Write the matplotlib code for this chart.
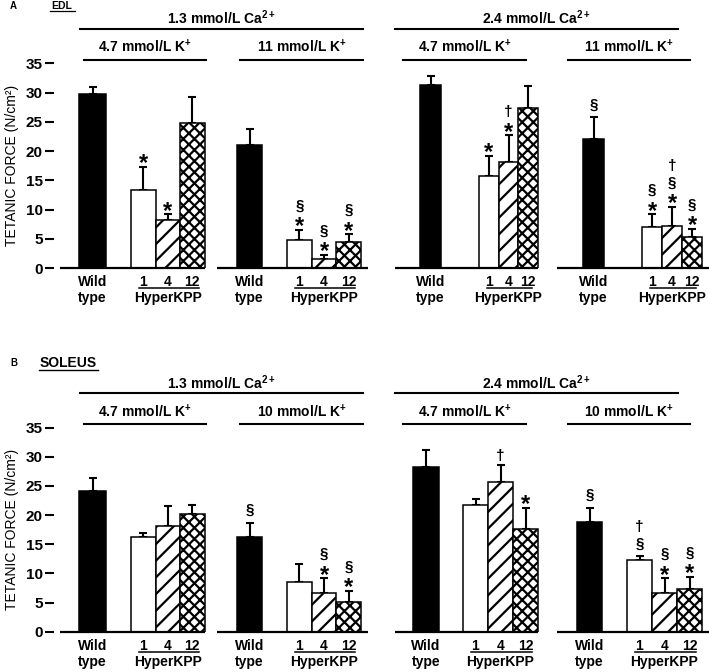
import matplotlib as mpl
import matplotlib.pyplot as plt

# Tetanic force (N/cm2), mean and SEM.
# Each group: wild type, HyperKPP lines 1, 4, 12.
# Groups: [1.3 Ca / 4.7 K, 1.3 Ca / high K, 2.4 Ca / 4.7 K, 2.4 Ca / high K]
edl_mean = [[29.8, 13.3, 8.2, 24.8],
            [21.0, 4.8, 1.6, 4.4],
            [31.3, 15.8, 18.2, 27.3],
            [22.0, 7.0, 7.2, 5.3]]
edl_sem = [[1.1, 4.0, 1.0, 4.4],
           [2.8, 1.7, 0.7, 1.4],
           [1.5, 3.4, 4.5, 3.8],
           [3.8, 2.2, 3.3, 1.4]]
soleus_mean = [[24.2, 16.3, 18.2, 20.2],
               [16.3, 8.6, 6.7, 5.1],
               [28.2, 21.8, 25.7, 17.7],
               [18.9, 12.3, 6.6, 7.4]]
soleus_sem = [[2.1, 0.6, 3.3, 1.5],
              [2.4, 3.0, 2.5, 1.9],
              [3.0, 0.9, 2.9, 3.6],
              [2.4, 0.7, 2.6, 2.0]]

# significance symbols per bar, bottom to top
edl_marks = [['', '*', '*', ''],
             ['', '*§', '*§', '*§'],
             ['', '*', '*†', ''],
             ['§', '*§', '*§†', '*§']]
soleus_marks = [['', '', '', ''],
                ['§', '', '*§', '*§'],
                ['', '', '†', '*'],
                ['§', '§†', '*§', '*§']]

ca_labels = ['1.3 mmol/L Ca$^{2+}$', '2.4 mmol/L Ca$^{2+}$']
edl_k_labels = ['4.7 mmol/L K$^{+}$', '11 mmol/L K$^{+}$']
soleus_k_labels = ['4.7 mmol/L K$^{+}$', '10 mmol/L K$^{+}$']
line_labels = ['1', '4', '12']
yticks = [0, 5, 10, 15, 20, 25, 30, 35]

# ---- layout (figure pixels) ----
W, H = 709, 672
AX_LEFT = 54
baselines = [(60, 205), (217, 368), (395, 538), (557, 709)]
ca_spans = [(80, 363), (395, 678)]
k_spans = [(84, 206), (240, 363), (403, 526), (568, 690)]
# (wild type left, width), (first HyperKPP bar left, width)
layout_a = [((79, 27), (131, 24.5)), ((237, 25), (287, 24.7)),
            ((420, 21), (479, 19.7)), ((583, 21), (642, 20))]
layout_b = [((79, 27), (131, 24.5)), ((237, 25), (287, 24.7)),
            ((413, 26), (463, 25)), ((577, 25), (627, 25))]

fills = [dict(color='black'), dict(color='white'),
         dict(color='white', hatch='//'), dict(color='white', hatch='xxx')]

sym_size = {'*': 17, '§': 11, '†': 11}
sym_center = {'*': 0.57, '§': 0.26, '†': 0.28}   # glyph centre / em
sym_first = {'*': 10, '§': 12.5, '†': 9}         # px above error bar
sym_step = {'*': 14, '§': 16.5, '†': 16}

mpl.rcParams['font.family'] = 'Liberation Sans'
mpl.rcParams['font.weight'] = 'bold'
mpl.rcParams['mathtext.fontset'] = 'custom'
mpl.rcParams['mathtext.rm'] = 'Liberation Sans:bold'
mpl.rcParams['mathtext.bf'] = 'Liberation Sans:bold'
mpl.rcParams['mathtext.it'] = 'Liberation Sans:bold'
mpl.rcParams['hatch.linewidth'] = 1.6
mpl.rcParams['font.size'] = 10


def draw_panel(fig, y0, y35, means, sems, marks, k_labels, layout):
    ax = fig.add_axes([AX_LEFT / W, 1 - y0 / H, 1 - AX_LEFT / W, (y0 - y35) / H])
    ax.set_xlim(AX_LEFT, W)
    ax.set_ylim(0, 35)
    ppu = (y0 - y35) / 35.0  # pixels per N/cm2

    def up(px):
        return 35 + px / ppu

    def down(px):
        return -px / ppu

    for sp in ax.spines.values():
        sp.set_visible(False)
    ax.set_xticks([])
    ax.set_yticks(yticks)
    ax.tick_params(axis='y', length=6.5, width=1.5, pad=1.5, labelsize=11)
    ax.set_ylabel('TETANIC FORCE (N/cm²)', fontsize=10)
    ax.yaxis.set_label_coords((19 - AX_LEFT) / (W - AX_LEFT), 0.5)

    for g in range(4):
        (wl, ww), (kl, kw) = layout[g]
        lefts = [wl, kl, kl + kw, kl + 2 * kw]
        widths = [ww, kw, kw, kw]
        for i in range(4):
            ax.bar(lefts[i], means[g][i], widths[i], align='edge',
                   edgecolor='black', linewidth=1.1, zorder=2, **fills[i])
            xc = lefts[i] + widths[i] / 2
            top = means[g][i] + sems[g][i]
            ax.errorbar(xc, means[g][i], yerr=[[0], [sems[g][i]]], fmt='none',
                        ecolor='black', elinewidth=1.5, capsize=3,
                        capthick=1.5, zorder=1.5)
            center = None
            prev = None
            for s in marks[g][i]:
                if center is None:
                    center = sym_first[s]
                else:
                    center += sym_step[prev]
                prev = s
                fs = sym_size[s]
                base = center - sym_center[s] * fs / 0.72
                ax.annotate(s, xy=(xc, top), xytext=(0, base * 0.72),
                            textcoords='offset points', ha='center',
                            va='baseline', fontsize=fs, annotation_clip=False)
        ax.hlines(0, baselines[g][0], baselines[g][1], color='black',
                  linewidth=1.6, clip_on=False, zorder=3)
        # x labels
        ax.text(wl + ww / 2, down(14), 'Wild', ha='center', va='center')
        ax.text(wl + ww / 2, down(30), 'type', ha='center', va='center')
        for j in range(3):
            ax.text(kl + kw * (j + 0.5), down(14), line_labels[j],
                    ha='center', va='center')
        ax.plot([kl + 8, kl + 3 * kw - 6], [down(20), down(20)], color='black',
                linewidth=1.1, clip_on=False)
        ax.text(kl + 1.5 * kw, down(30), 'HyperKPP', ha='center', va='center')
        # potassium headers
        ax.plot(k_spans[g], [up(3.5), up(3.5)], color='black', linewidth=1.5,
                clip_on=False)
        ax.text(sum(k_spans[g]) / 2, up(16.5), k_labels[g % 2],
                ha='center', va='center')
    for c in range(2):
        ax.plot(ca_spans[c], [up(34.5), up(34.5)], color='black',
                linewidth=1.5, clip_on=False)
        ax.text(sum(ca_spans[c]) / 2, up(45.5), ca_labels[c],
                ha='center', va='center')
    return ax


fig = plt.figure(figsize=(W / 100, H / 100), dpi=100)
draw_panel(fig, 268, 63.3, edl_mean, edl_sem, edl_marks, edl_k_labels,
           layout_a)
draw_panel(fig, 631.7, 427.7, soleus_mean, soleus_sem, soleus_marks,
           soleus_k_labels, layout_b)

# panel titles
fig.text(10 / W, 1 - 6 / H, 'A', fontsize=7, ha='left', va='center')
fig.text(62 / W, 1 - 6 / H, 'EDL', fontsize=7.5, ha='center', va='center')
fig.add_artist(plt.Line2D([50 / W, 75 / W], [1 - 11 / H, 1 - 11 / H],
                          color='black', linewidth=0.9))
fig.text(10 / W, 1 - 363 / H, 'B', fontsize=7, ha='left', va='center')
fig.text(68 / W, 1 - 363 / H, 'SOLEUS', fontsize=10, ha='center', va='center')
fig.add_artist(plt.Line2D([39 / W, 98 / W], [1 - 370 / H, 1 - 370 / H],
                          color='black', linewidth=1.0))

fig.savefig('out.png', dpi=100)
